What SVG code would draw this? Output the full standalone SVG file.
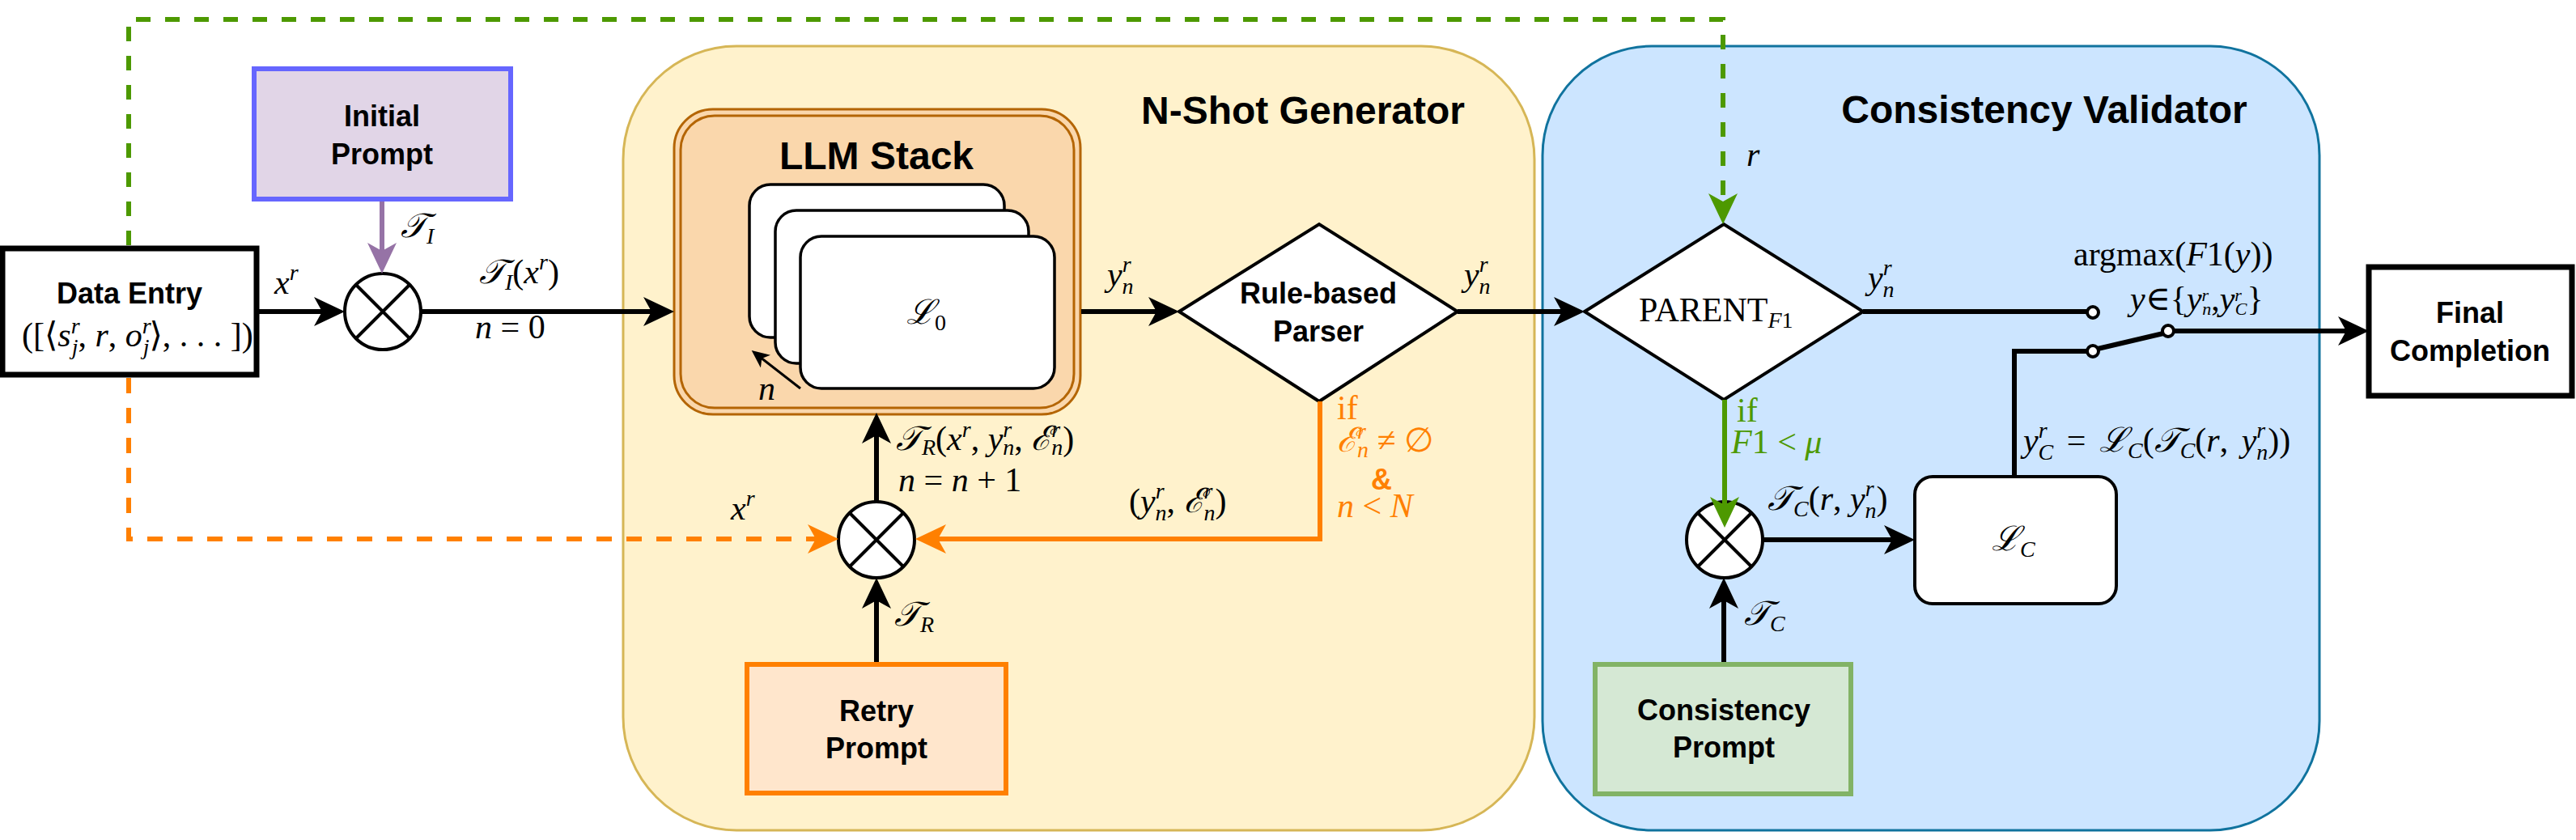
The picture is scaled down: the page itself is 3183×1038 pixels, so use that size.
<svg xmlns="http://www.w3.org/2000/svg" width="3183" height="1038" viewBox="0 0 3183 1038">
<defs>
<style>
.lbl{font-family:"Liberation Sans",Arial,sans-serif;font-weight:bold;font-size:36px;fill:#000;text-anchor:middle}
.ttl{font-size:48px}
.m{font-family:"Liberation Serif","DejaVu Serif",serif;font-style:italic;font-size:42px;fill:#000}
.u{font-style:normal}
.s{font-size:28px}
.ss{font-size:22px}
.or{fill:#FF8000}
.gr{fill:#4D9900}
.conn{fill:none;stroke-linecap:butt;stroke-linejoin:miter}
.k{stroke:#000;stroke-width:6}
.wire{fill:#fff;stroke:#000;stroke-width:4}
</style>
<marker id="arrB" markerUnits="userSpaceOnUse" viewBox="0 0 38 36" markerWidth="38" markerHeight="36" refX="22" refY="18" orient="auto"><path d="M0,0 L38,18 L0,36 L10,18 Z" fill="#000"/></marker>
<marker id="arrO" markerUnits="userSpaceOnUse" viewBox="0 0 38 36" markerWidth="38" markerHeight="36" refX="22" refY="18" orient="auto"><path d="M0,0 L38,18 L0,36 L10,18 Z" fill="#FF8000"/></marker>
<marker id="arrG" markerUnits="userSpaceOnUse" viewBox="0 0 38 36" markerWidth="38" markerHeight="36" refX="22" refY="18" orient="auto"><path d="M0,0 L38,18 L0,36 L10,18 Z" fill="#4D9900"/></marker>
<marker id="arrP" markerUnits="userSpaceOnUse" viewBox="0 0 38 36" markerWidth="38" markerHeight="36" refX="22" refY="18" orient="auto"><path d="M0,0 L38,18 L0,36 L10,18 Z" fill="#9673A6"/></marker>
<marker id="arrS" markerUnits="userSpaceOnUse" viewBox="0 0 22 20" markerWidth="22" markerHeight="20" refX="14" refY="10" orient="auto"><path d="M0,0 L22,10 L0,20 L6,10 Z" fill="#000"/></marker>
</defs>
<rect width="3183" height="1038" fill="#fff"/>

<g id="n-shot-generator">
<rect x="770" y="57" width="1126" height="969" rx="140" ry="140" fill="#FFF2CC" stroke="#D6B656" stroke-width="3"/>
<text class="lbl ttl" x="1610" y="153">N-Shot Generator</text>
</g>
<g id="consistency-validator">
<rect x="1906" y="57" width="960" height="969" rx="135" ry="135" fill="#CCE5FF" stroke="#10739E" stroke-width="3"/>
<text class="lbl ttl" x="2526" y="152">Consistency Validator</text>
</g>

<g id="data-entry">
<rect x="3" y="307" width="314" height="156" fill="#fff" stroke="#000" stroke-width="7"/>
<text class="lbl" x="160" y="375">Data Entry</text>
<text class="m" x="27" y="428" font-size="40"><tspan class="u">([⟨</tspan>s<tspan class="s" dy="-16">r</tspan><tspan class="s" dx="-10" dy="26">j</tspan><tspan class="u" dy="-10">, </tspan>r<tspan class="u">, </tspan>o<tspan class="s" dy="-16">r</tspan><tspan class="s" dx="-10" dy="26">j</tspan><tspan class="u" dy="-10">⟩, . . . ])</tspan></text>
</g>

<g id="initial-prompt">
<rect x="314" y="85" width="317" height="161" fill="#E1D5E7" stroke="#6666FF" stroke-width="6"/>
<text class="lbl" x="472" y="156">Initial</text>
<text class="lbl" x="472" y="203">Prompt</text>
</g>

<g id="mult-initial">
<circle cx="473" cy="385" r="47" fill="#fff" stroke="#000" stroke-width="4"/>
<path d="M440,352 L506,418 M506,352 L440,418" stroke="#000" stroke-width="4"/>
</g>

<g id="llm-stack">
<rect x="833" y="135" width="502" height="377" rx="48" fill="#FAD7AC" stroke="#B46504" stroke-width="3"/>
<rect x="841" y="143" width="486" height="361" rx="42" fill="none" stroke="#B46504" stroke-width="3"/>
<text class="lbl ttl" x="1083" y="209">LLM Stack</text>
<rect x="926" y="228" width="315" height="189" rx="26" fill="#fff" stroke="#000" stroke-width="3.5"/>
<rect x="958" y="260" width="313" height="189" rx="26" fill="#fff" stroke="#000" stroke-width="3.5"/>
<rect x="989" y="292" width="314" height="188" rx="26" fill="#fff" stroke="#000" stroke-width="3.5"/>
<text class="m" x="1120" y="400">ℒ<tspan class="s u" dy="8">0</tspan></text>
<text class="m" x="937" y="494" font-size="36">n</text>
</g>

<g id="rule-based-parser">
<polygon points="1457,385 1630,277 1801,385 1630,496" fill="#fff" stroke="#000" stroke-width="4"/>
<text class="lbl" x="1629" y="375">Rule-based</text>
<text class="lbl" x="1629" y="422">Parser</text>
</g>

<g id="mult-retry">
<circle cx="1083" cy="667" r="47" fill="#fff" stroke="#000" stroke-width="4"/>
<path d="M1050,634 L1116,700 M1116,634 L1050,700" stroke="#000" stroke-width="4"/>
</g>

<g id="retry-prompt">
<rect x="923" y="821" width="320" height="159" fill="#FFE6CC" stroke="#FF8000" stroke-width="6"/>
<text class="lbl" x="1083" y="891">Retry</text>
<text class="lbl" x="1083" y="937">Prompt</text>
</g>

<g id="parent-check">
<polygon points="1958,385 2130,277 2302,385 2130,494" fill="#fff" stroke="#000" stroke-width="4"/>
<text class="m u" x="2025" y="397" font-size="40">PARENT<tspan class="s" style="font-style:italic" dy="8">F</tspan><tspan class="s">1</tspan></text>
</g>

<g id="mult-consistency">
<circle cx="2131" cy="667" r="47" fill="#fff" stroke="#000" stroke-width="4"/>
<path d="M2098,634 L2164,700 M2164,634 L2098,700" stroke="#000" stroke-width="4"/>
</g>

<g id="consistency-prompt">
<rect x="1971" y="821" width="316" height="160" fill="#D5E8D4" stroke="#82B366" stroke-width="6"/>
<text class="lbl" x="2130" y="890">Consistency</text>
<text class="lbl" x="2130" y="936">Prompt</text>
</g>

<g id="llm-c">
<rect x="2366" y="589" width="249" height="157" rx="22" fill="#fff" stroke="#000" stroke-width="4"/>
<text class="m" x="2461" y="680">ℒ<tspan class="s" dy="8">C</tspan></text>
</g>

<g id="final-completion">
<rect x="2927" y="330" width="251" height="159" fill="#fff" stroke="#000" stroke-width="7"/>
<text class="lbl" x="3052" y="399">Final</text>
<text class="lbl" x="3052" y="446">Completion</text>
</g>

<g id="connectors">
<path class="conn" d="M159,303 V24 H2129 V261" stroke="#4D9900" stroke-width="6" stroke-dasharray="18 18" marker-end="url(#arrG)"/>
<path class="conn" d="M159,467 V666 H1020" stroke="#FF8000" stroke-width="6" stroke-dasharray="19 18" marker-end="url(#arrO)"/>
<path class="conn k" d="M320,385 H410" marker-end="url(#arrB)"/>
<path class="conn" d="M472,249 V322" stroke="#9673A6" stroke-width="6" marker-end="url(#arrP)"/>
<path class="conn k" d="M520,385 H817" marker-end="url(#arrB)"/>
<path class="conn k" d="M1336,385 H1441" marker-end="url(#arrB)"/>
<path class="conn k" d="M1801,385 H1942" marker-end="url(#arrB)"/>
<path class="conn" d="M1631,496 V666 H1147" stroke="#FF8000" stroke-width="6" marker-end="url(#arrO)"/>
<path class="conn k" d="M1083,818 V730" marker-end="url(#arrB)"/>
<path class="conn k" d="M1083,620 V526" marker-end="url(#arrB)"/>
<path class="conn" d="M989,480 L935,438" stroke="#000" stroke-width="3" marker-end="url(#arrS)"/>
<path class="conn k" d="M2302,385 H2580"/>
<path class="conn" d="M2131,494 V636" stroke="#4D9900" stroke-width="6" marker-end="url(#arrG)"/>
<path class="conn k" d="M2130,818 V730" marker-end="url(#arrB)"/>
<path class="conn k" d="M2178,667 H2350" marker-end="url(#arrB)"/>
<path class="conn k" d="M2489,589 V434 H2580"/>
<path class="conn k" d="M2592,431 L2673,412"/>
<path class="conn k" d="M2685,409 H2911" marker-end="url(#arrB)"/>
<circle class="wire" cx="2586" cy="386" r="7"/>
<circle class="wire" cx="2586" cy="434" r="7"/>
<circle class="wire" cx="2679" cy="409" r="7"/>
</g>

<g id="labels">
<text class="m" x="339" y="363">x<tspan class="s" dy="-17">r</tspan></text>
<text class="m" x="495" y="293">𝒯<tspan class="s" dy="8">I</tspan></text>
<text class="m" x="592" y="350">𝒯<tspan class="s" dy="8">I</tspan><tspan class="u" dy="-8">(</tspan>x<tspan class="s" dy="-17">r</tspan><tspan class="u" dy="17">)</tspan></text>
<text class="m" x="587" y="418">n<tspan class="u"> = 0</tspan></text>
<text class="m" x="1368" y="353">y<tspan class="s" dy="-17">r</tspan><tspan class="s" dx="-11" dy="27">n</tspan></text>
<text class="m" x="1809" y="353">y<tspan class="s" dy="-17">r</tspan><tspan class="s" dx="-11" dy="27">n</tspan></text>
<text class="m" x="1107" y="556" font-size="40">𝒯<tspan class="s" dy="6">R</tspan><tspan class="u" dy="-6">(</tspan>x<tspan class="s" dy="-16">r</tspan><tspan class="u" dy="16">, </tspan>y<tspan class="s" dy="-16">r</tspan><tspan class="s" dx="-11" dy="22">n</tspan><tspan class="u" dy="-6">, </tspan>ℰ<tspan class="s" dy="-16">r</tspan><tspan class="s" dx="-11" dy="22">n</tspan><tspan class="u" dy="-6">)</tspan></text>
<text class="m" x="1110" y="607" font-size="40">n<tspan class="u"> = </tspan>n<tspan class="u"> + 1</tspan></text>
<text class="m" x="1395" y="633"><tspan class="u">(</tspan>y<tspan class="s" dy="-17">r</tspan><tspan class="s" dx="-11" dy="27">n</tspan><tspan class="u" dy="-10">, </tspan>ℰ<tspan class="s" dy="-17">r</tspan><tspan class="s" dx="-11" dy="27">n</tspan><tspan class="u" dy="-10">)</tspan></text>
<text class="m u or" x="1652" y="518">if</text>
<text class="m or" x="1652" y="558" font-size="40">ℰ<tspan class="s" dy="-16">r</tspan><tspan class="s" dx="-11" dy="23">n</tspan><tspan class="u" dy="-7"> ≠ ∅</tspan></text>
<text class="lbl or" x="1707" y="605" font-size="32">&amp;</text>
<text class="m or" x="1652" y="639" font-size="40">n<tspan class="u"> &lt; </tspan>N</text>
<text class="m" x="903" y="642">x<tspan class="s" dy="-17">r</tspan></text>
<text class="m" x="1105" y="773">𝒯<tspan class="s" dy="8">R</tspan></text>
<text class="m" x="2158" y="205">r</text>
<text class="m" x="2308" y="357">y<tspan class="s" dy="-17">r</tspan><tspan class="s" dx="-11" dy="27">n</tspan></text>
<text class="m" x="2562" y="328"><tspan class="u">argmax(</tspan>F<tspan class="u">1(</tspan>y<tspan class="u">))</tspan></text>
<text class="m" x="2632" y="383" font-size="29">y<tspan class="u">∈{</tspan>y<tspan class="ss" dy="-11">r</tspan><tspan class="ss" dx="-8" dy="17">n</tspan><tspan class="u" dy="-6">,</tspan>y<tspan class="ss" dy="-11">r</tspan><tspan class="ss" dx="-8" dy="17">C</tspan><tspan class="u" dy="-6">}</tspan></text>
<text class="m u gr" x="2146" y="521">if</text>
<text class="m gr" x="2139" y="560">F<tspan class="u">1 &lt; </tspan>μ</text>
<text class="m" x="2184" y="630">𝒯<tspan class="s" dy="8">C</tspan><tspan class="u" dy="-8">(</tspan>r<tspan class="u">, </tspan>y<tspan class="s" dy="-17">r</tspan><tspan class="s" dx="-11" dy="27">n</tspan><tspan class="u" dy="-10">)</tspan></text>
<text class="m" x="2500" y="558" font-size="45" word-spacing="6">y<tspan class="s" dy="-17">r</tspan><tspan class="s" dx="-11" dy="27">C</tspan><tspan class="u" dy="-10"> = </tspan>ℒ<tspan class="s" dy="8">C</tspan><tspan class="u" dy="-8">(</tspan>𝒯<tspan class="s" dy="8">C</tspan><tspan class="u" dy="-8">(</tspan>r<tspan class="u">, </tspan>y<tspan class="s" dy="-17">r</tspan><tspan class="s" dx="-11" dy="27">n</tspan><tspan class="u" dy="-10">))</tspan></text>
<text class="m" x="2155" y="772">𝒯<tspan class="s" dy="8">C</tspan></text>
</g>
</svg>
